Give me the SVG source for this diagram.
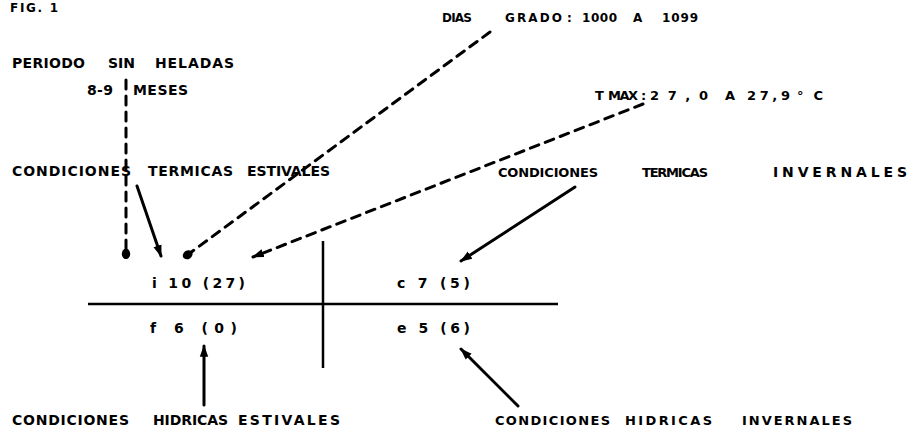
<svg xmlns="http://www.w3.org/2000/svg" width="919" height="434" viewBox="0 0 919 434">
<style>
text{font-family:"DejaVu Sans","Liberation Sans",sans-serif;font-weight:bold;font-size:14px;fill:#000}
.s{font-size:12px}
.m{font-size:13px}
.ln{stroke:#000;stroke-width:3;fill:none;stroke-linecap:round}
.d{stroke-dasharray:9 7}
.rule{stroke:#000;stroke-width:2.5;fill:none}
</style>
<defs>
<marker id="ah" viewBox="0 0 10 10" refX="9" refY="5" markerWidth="4" markerHeight="4" orient="auto" markerUnits="strokeWidth">
<path d="M0,1.5 L10,5 L0,8.5 Z" fill="#000"/>
</marker>
<marker id="dot" viewBox="0 0 10 10" refX="7" refY="5" markerWidth="3.5" markerHeight="3.5" orient="auto" markerUnits="strokeWidth">
<ellipse cx="5" cy="5" rx="5" ry="4" fill="#000"/>
</marker>
</defs>
<text x="10" y="12" class="s" textLength="48">FIG. 1</text>
<g id="periodo">
<text x="12" y="68" textLength="73">PERIODO</text>
<text x="108" y="68" textLength="27">SIN</text>
<text x="155" y="68" textLength="79">HELADAS</text>
<text x="87" y="95" textLength="26">8-9</text>
<text x="133" y="95" textLength="55">MESES</text>
</g>
<g id="dias">
<text x="442" y="22" class="s" textLength="30">DIAS</text>
<text x="505" y="22" class="s" textLength="57">GRADO</text>
<text x="567" y="22" class="s">:</text>
<text x="582" y="22" class="s" textLength="35">1000</text>
<text x="633" y="22" class="s" textLength="12">A</text>
<text x="662" y="22" class="s" textLength="36">1099</text>
</g>
<g id="tmax">
<text x="595" y="100" class="m" textLength="10">T</text>
<text x="608" y="100" class="m" textLength="30">MAX</text>
<text x="641" y="100" class="m">:</text>
<text x="650" y="100" class="m" textLength="58">27,0</text>
<text x="725" y="100" class="m" textLength="14">A</text>
<text x="747" y="100" class="m" textLength="43">27,9</text>
<text x="797" y="100" class="m" textLength="26">°C</text>
</g>
<g id="termicas-estivales">
<text x="12" y="176" textLength="119">CONDICIONES</text>
<text x="148" y="176" textLength="85">TERMICAS</text>
<text x="247" y="176" textLength="83">ESTIVALES</text>
</g>
<g id="termicas-invernales">
<text x="498" y="177" class="m" textLength="100">CONDICIONES</text>
<text x="642" y="177" class="m" textLength="66">TERMICAS</text>
<text x="773" y="177" textLength="134">INVERNALES</text>
</g>
<g id="formula">
<text x="152" y="288" textLength="93">i 10 (27)</text>
<text x="397" y="288" textLength="73">c 7 (5)</text>
<text x="150" y="333" textLength="87">f 6 (0)</text>
<text x="397" y="333" textLength="73">e 5 (6)</text>
<line class="rule" x1="88" y1="304" x2="558" y2="304"/>
<line class="rule" x1="323" y1="241" x2="323" y2="368"/>
</g>
<g id="hidricas-estivales">
<text x="12" y="425" textLength="117">CONDICIONES</text>
<text x="153" y="425" textLength="75">HIDRICAS</text>
<text x="238" y="425" textLength="102">ESTIVALES</text>
</g>
<g id="hidricas-invernales">
<text x="495" y="425" class="m" textLength="115">CONDICIONES</text>
<text x="625" y="425" class="m" textLength="87">HIDRICAS</text>
<text x="742" y="425" class="m" textLength="110">INVERNALES</text>
</g>
<g id="connectors">
<line class="ln d" x1="126" y1="80" x2="126" y2="256" marker-end="url(#dot)"/>
<line class="ln" x1="137" y1="186" x2="161" y2="256" marker-end="url(#ah)"/>
<line class="ln d" x1="490" y1="32" x2="186" y2="256" marker-end="url(#dot)"/>
<line class="ln d" x1="643" y1="104" x2="253" y2="257" marker-end="url(#ah)"/>
<line class="ln" x1="575" y1="187" x2="461" y2="261" marker-end="url(#ah)"/>
<line class="ln" x1="204" y1="405" x2="204" y2="346" marker-end="url(#ah)"/>
<line class="ln" x1="518" y1="406" x2="461" y2="349" marker-end="url(#ah)"/>
</g>
</svg>
